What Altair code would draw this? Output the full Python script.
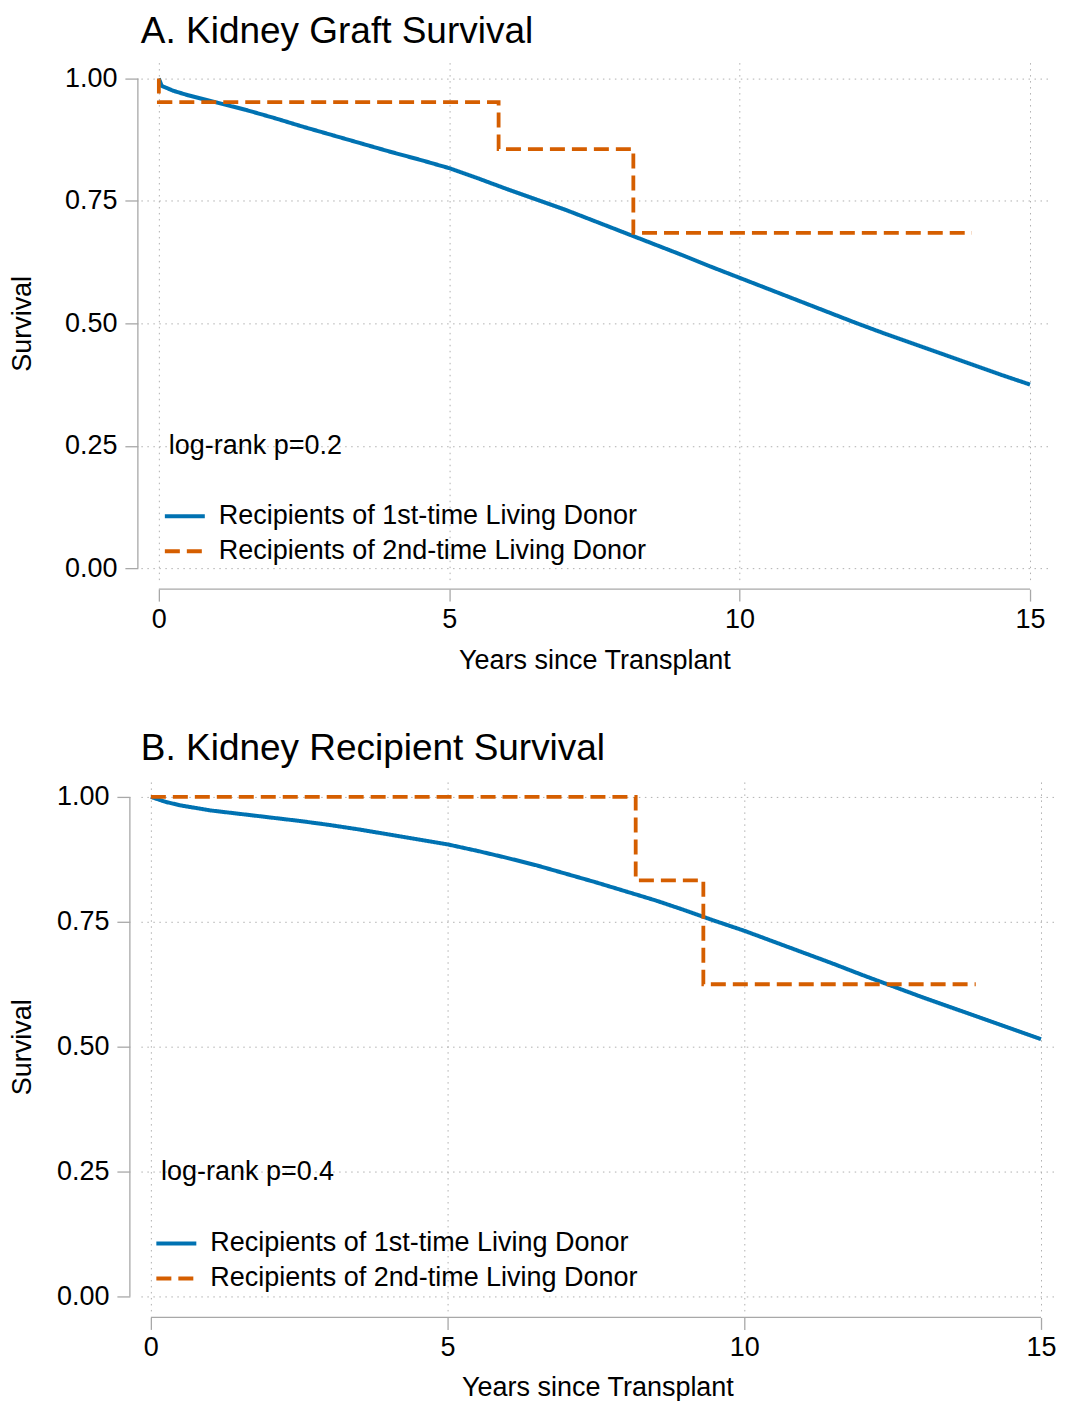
import altair as alt
import pandas as pd

# ---------------- data ----------------
GROUPS = ["Recipients of 1st-time Living Donor", "Recipients of 2nd-time Living Donor"]
COLORS = ["#0072B2", "#D55E00"]

# Panel A: Kidney graft survival
a_first_years = [0, 0.05, 0.25, 0.5, 1, 1.5, 2, 2.5, 3, 3.5, 4, 4.5, 5, 5.5, 6, 6.5, 7, 7.5,
                 8, 8.5, 9, 9.5, 10, 10.5, 11, 11.5, 12, 12.5, 13, 13.5, 14, 14.5, 15]
a_first_surv = [1.000, 0.985, 0.975, 0.966, 0.951, 0.936, 0.919, 0.901, 0.884, 0.867, 0.850,
                0.834, 0.817, 0.796, 0.774, 0.753, 0.732, 0.709, 0.686, 0.663, 0.640, 0.616,
                0.593, 0.570, 0.547, 0.524, 0.501, 0.479, 0.458, 0.437, 0.416, 0.395, 0.375]
a_second_years = [0, 0, 5.85, 8.17, 14.0]
a_second_surv = [1.000, 0.952, 0.856, 0.685, 0.685]
a_logrank = "log-rank p=0.2"

# Panel B: Kidney recipient survival
b_first_years = [0, 0.25, 0.5, 1, 1.5, 2, 2.5, 3, 3.5, 4, 4.5, 5, 5.5, 6, 6.5, 7, 7.5,
                 8, 8.5, 9, 9.5, 10, 10.5, 11, 11.5, 12, 12.5, 13, 13.5, 14, 14.5, 15]
b_first_surv = [1.000, 0.990, 0.983, 0.973, 0.966, 0.959, 0.952, 0.944, 0.935, 0.925, 0.915,
                0.905, 0.892, 0.878, 0.863, 0.846, 0.829, 0.811, 0.793, 0.773, 0.752, 0.732,
                0.710, 0.688, 0.666, 0.643, 0.621, 0.599, 0.578, 0.557, 0.536, 0.515]
b_second_years = [0, 8.17, 9.31, 13.9]
b_second_surv = [1.000, 0.833, 0.625, 0.625]
b_logrank = "log-rank p=0.4"

Y_TICKS = [0, 0.25, 0.5, 0.75, 1.0]
X_TICKS = [0, 5, 10, 15]

FONT = "Liberation Sans"
FS = 27
AXIS_GRAY = "#a8a8a8"
GRID_GRAY = "#b0b0b0"


def panel(title, first_years, first_surv, second_years, second_surv, logrank,
          width, height, xdom, ydom, xaxis_off, yaxis_off, ytitle_pad, xtitle_pad,
          legend_x, legend_y, title_off):
    df1 = pd.DataFrame({"t": first_years, "s": first_surv, "g": GROUPS[0]})
    df2 = pd.DataFrame({"t": second_years, "s": second_surv, "g": GROUPS[1]})

    xs = alt.Scale(domain=xdom, nice=False, zero=False)
    ys = alt.Scale(domain=ydom, nice=False, zero=False)

    xax = alt.Axis(values=X_TICKS, format="d", title="Years since Transplant", offset=xaxis_off,
                   domain=False, tickSize=12, tickColor=AXIS_GRAY, tickWidth=1.3,
                   labelFontSize=FS, labelFont=FONT, labelColor="black", labelPadding=5,
                   titleFontSize=FS, titleFont=FONT, titleFontWeight="normal",
                   titleColor="black", titlePadding=xtitle_pad,
                   grid=True, gridColor=GRID_GRAY, gridDash=[1.5, 4.5], gridWidth=1)
    yax = alt.Axis(values=Y_TICKS, format=".2f", title="Survival", offset=yaxis_off,
                   domain=False, tickSize=13, tickColor=AXIS_GRAY, tickWidth=1.3,
                   labelFontSize=FS, labelFont=FONT, labelColor="black", labelPadding=8,
                   titleFontSize=FS, titleFont=FONT, titleFontWeight="normal",
                   titleColor="black", titlePadding=ytitle_pad,
                   grid=True, gridColor=GRID_GRAY, gridDash=[1.5, 4.5], gridWidth=1)

    leg = alt.Legend(title=None, orient="none", legendX=legend_x, legendY=legend_y,
                     symbolType="stroke", symbolSize=1600, symbolStrokeWidth=4,
                     labelFontSize=FS, labelFont=FONT, labelColor="black",
                     labelOffset=12, rowPadding=0, padding=0, labelLimit=0)
    color = alt.Color("g:N", scale=alt.Scale(domain=GROUPS, range=COLORS), legend=leg)
    dash = alt.StrokeDash("g:N", scale=alt.Scale(domain=GROUPS, range=[[1, 0], [15, 7]]),
                          legend=leg)

    line1 = alt.Chart(df1).mark_line(strokeWidth=4, strokeJoin="round").encode(
        x=alt.X("t:Q", scale=xs, axis=xax),
        y=alt.Y("s:Q", scale=ys, axis=yax),
        color=color, strokeDash=dash,
    )
    line2 = alt.Chart(df2).mark_line(strokeWidth=3.8, interpolate="step-after").encode(
        x=alt.X("t:Q", scale=xs, axis=xax),
        y=alt.Y("s:Q", scale=ys, axis=yax),
        color=color, strokeDash=dash,
    )

    # axis lines spanning only the tick range (Stata style)
    ydom_line = alt.Chart(pd.DataFrame({"a": [Y_TICKS[0]], "b": [Y_TICKS[-1]]})).mark_rule(
        color=AXIS_GRAY, strokeWidth=1.3).encode(
        y=alt.Y("a:Q", scale=ys, axis=yax), y2="b:Q", x=alt.value(-yaxis_off))
    xdom_line = alt.Chart(pd.DataFrame({"a": [X_TICKS[0]], "b": [X_TICKS[-1]]})).mark_rule(
        color=AXIS_GRAY, strokeWidth=1.3).encode(
        x=alt.X("a:Q", scale=xs, axis=xax), x2="b:Q", y=alt.value(height + xaxis_off))

    txt = alt.Chart(pd.DataFrame({"lab": [logrank]})).mark_text(
        align="left", baseline="middle", fontSize=FS, font=FONT, color="black").encode(
        x=alt.datum(0.17, scale=xs), y=alt.datum(0.25, scale=ys), text="lab:N")

    return alt.layer(ydom_line, xdom_line, line1, line2, txt).properties(
        width=width, height=height,
        title=alt.TitleParams(title, anchor="start", frame="group", fontSize=37, font=FONT,
                              fontWeight="normal", color="black", offset=title_off),
    )


pA = panel("A. Kidney Graft Survival", a_first_years, a_first_surv, a_second_years,
           a_second_surv, a_logrank, 908, 522, [-0.3097, 15.31], [-0.0326, 1.0326],
           5, 3, 27.5, 15, 22, 432, 12)
pB = panel("B. Kidney Recipient Survival", b_first_years, b_first_surv, b_second_years,
           b_second_surv, b_logrank, 914, 530, [-0.1684, 15.219], [-0.03, 1.03],
           6, 11, 19.5, 14, 13.5, 440, 14)

chart = alt.vconcat(pA, pB, spacing=57).resolve_scale(
    color="independent", strokeDash="independent"
).resolve_legend(
    color="independent", strokeDash="independent"
).properties(
    padding={"left": 0, "top": 4, "right": 0, "bottom": 0}
).configure(background="white", view=alt.ViewConfig(stroke=None))

chart.save("out.html", embed_options={"renderer": "svg", "actions": False})
